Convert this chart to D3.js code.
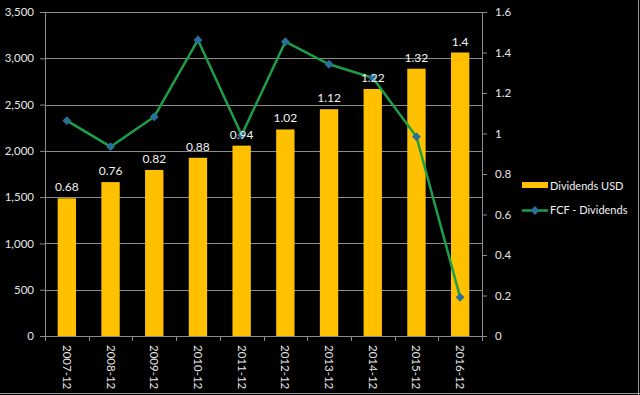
<!DOCTYPE html>
<html>
<head>
<meta charset="utf-8">
<script src="https://cdn.jsdelivr.net/npm/d3@7"></script>
<style>
  body { margin: 0; background: #000; }
  svg { display: block; }
  .axis text { fill: #e6e6e6; font-family: Lato, "Open Sans", sans-serif; font-size: 11.5px; }
  .axis path, .axis line { stroke: #8c8c8c; }
</style>
</head>
<body>
<div id="chart"></div>
<script>
// data
const years = ["2007-12", "2008-12", "2009-12", "2010-12", "2011-12",
               "2012-12", "2013-12", "2014-12", "2015-12", "2016-12"];
const dividends = [0.68, 0.76, 0.82, 0.88, 0.94, 1.02, 1.12, 1.22, 1.32, 1.4];
const fcfMinusDiv = [2326, 2045, 2369, 3198, 2171, 3179, 2935, 2790, 2153, 418];
const leftTicks = [0, 500, 1000, 1500, 2000, 2500, 3000, 3500];
const rightTicks = [0, 0.2, 0.4, 0.6, 0.8, 1, 1.2, 1.4, 1.6];

const W = 640, H = 395;
const margin = { top: 12, right: 158, bottom: 59, left: 45 };
const width = W - margin.left - margin.right;
const height = H - margin.top - margin.bottom;

const svg = d3.select("#chart").append("svg")
    .attr("width", W)
    .attr("height", H);

// faint frame on bottom and right edge
svg.append("line").attr("x1", 0).attr("x2", W).attr("y1", H - 1.5).attr("y2", H - 1.5)
    .attr("stroke", "#9a9a9a").attr("stroke-width", 1);
svg.append("line").attr("x1", W - 1.5).attr("x2", W - 1.5).attr("y1", 0).attr("y2", H)
    .attr("stroke", "#9a9a9a").attr("stroke-width", 1);

const g = svg.append("g")
    .attr("transform", "translate(" + margin.left + "," + margin.top + ")");

// scales
const x = d3.scaleBand().domain(years).range([0, width]);
const yL = d3.scaleLinear().domain([0, 3500]).range([height, 0]);
const yR = d3.scaleLinear().domain([0, 1.6]).range([height, 0]);

// gridlines
g.append("g").selectAll("line")
    .data(leftTicks.slice(1))
    .join("line")
    .attr("x1", 0).attr("x2", width)
    .attr("y1", d => Math.round(yL(d)) + 0.5)
    .attr("y2", d => Math.round(yL(d)) + 0.5)
    .attr("stroke", "#8c8c8c");

// bars
const barW = x.bandwidth() * 0.42;
g.append("g").selectAll("rect")
    .data(dividends)
    .join("rect")
    .attr("x", (d, i) => x(years[i]) + (x.bandwidth() - barW) / 2)
    .attr("y", d => yR(d))
    .attr("width", barW)
    .attr("height", d => height - yR(d))
    .attr("fill", "#ffc000");

// axes
const xAxis = g.append("g")
    .attr("class", "axis")
    .attr("transform", "translate(0," + height + ")")
    .call(d3.axisBottom(x).tickSize(0).tickSizeOuter(0));
xAxis.selectAll(".tick text")
    .attr("transform", "rotate(90)")
    .attr("x", 9)
    .attr("y", 0)
    .attr("dy", "0.35em")
    .style("text-anchor", "start");
// ticks between categories
xAxis.selectAll(".sep")
    .data(d3.range(years.length + 1))
    .join("line")
    .attr("class", "sep")
    .attr("x1", i => Math.round(i * x.step()) + 0.5)
    .attr("x2", i => Math.round(i * x.step()) + 0.5)
    .attr("y1", 0).attr("y2", 5);

g.append("g")
    .attr("class", "axis")
    .call(d3.axisLeft(yL).tickValues(leftTicks).tickFormat(d3.format(",")).tickSize(5).tickSizeOuter(0).tickPadding(6));

g.append("g")
    .attr("class", "axis")
    .attr("transform", "translate(" + width + ",0)")
    .call(d3.axisRight(yR).tickValues(rightTicks).tickFormat(d => d).tickSize(5).tickSizeOuter(0).tickPadding(8));

// line
const line = d3.line()
    .x((d, i) => x(years[i]) + x.bandwidth() / 2)
    .y(d => yL(d));

g.append("path")
    .datum(fcfMinusDiv)
    .attr("fill", "none")
    .attr("stroke", "#1d9e48")
    .attr("stroke-width", 2.5)
    .attr("d", line);

const diamond = d3.symbol().type(d3.symbolDiamond2).size(50);
g.append("g").selectAll("path")
    .data(fcfMinusDiv)
    .join("path")
    .attr("transform", (d, i) => "translate(" + (x(years[i]) + x.bandwidth() / 2) + "," + yL(d) + ")")
    .attr("d", diamond)
    .attr("fill", "#2a6f9a");

// bar labels (drawn on top of the line)
g.append("g").selectAll("text")
    .data(dividends)
    .join("text")
    .attr("x", (d, i) => x(years[i]) + x.bandwidth() / 2)
    .attr("y", d => yR(d) - 7)
    .attr("text-anchor", "middle")
    .style("fill", "#f2f2f2")
    .style("font-family", "Lato, 'Open Sans', sans-serif")
    .style("font-size", "12px")
    .text(d => d);

// legend
const legend = svg.append("g").attr("transform", "translate(522,0)");
legend.append("rect")
    .attr("x", 0).attr("y", 182)
    .attr("width", 26).attr("height", 6)
    .attr("fill", "#ffc000");
legend.append("text")
    .attr("x", 28).attr("y", 189.5)
    .style("fill", "#f2f2f2")
    .style("font-family", "Lato, 'Open Sans', sans-serif")
    .style("font-size", "11px")
    .text("Dividends USD");

legend.append("line")
    .attr("x1", 0).attr("x2", 26).attr("y1", 210.5).attr("y2", 210.5)
    .attr("stroke", "#1d9e48").attr("stroke-width", 2.5);
legend.append("path")
    .attr("transform", "translate(13,210.5)")
    .attr("d", diamond)
    .attr("fill", "#2a6f9a");
legend.append("text")
    .attr("x", 28).attr("y", 214)
    .style("fill", "#f2f2f2")
    .style("font-family", "Lato, 'Open Sans', sans-serif")
    .style("font-size", "11px")
    .text("FCF - Dividends");
</script>
</body>
</html>
